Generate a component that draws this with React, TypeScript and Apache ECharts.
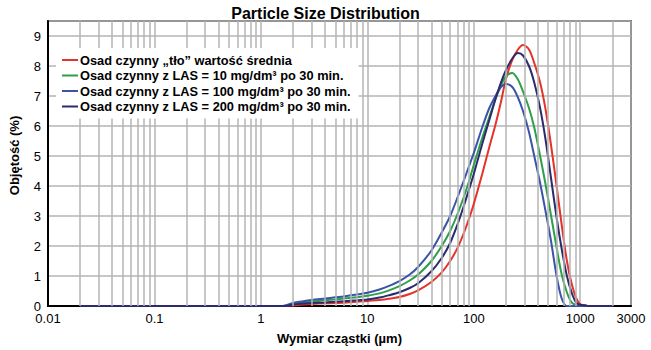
import React, { useEffect, useRef } from "react";
import * as echarts from "echarts";

const TITLE = "Particle Size Distribution";
const X_NAME = "Wymiar cząstki (µm)";
const Y_NAME = "Objętość (%)";

const seriesNames = [
  "Osad czynny „tło” wartość średnia",
  "Osad czynny z LAS = 10 mg/dm³ po 30 min.",
  "Osad czynny z LAS = 100 mg/dm³ po 30 min.",
  "Osad czynny z LAS = 200 mg/dm³ po 30 min.",
];
const seriesColors = ["#e5332a", "#2f9e4a", "#3a55a8", "#2b2b6e"];

// particle sizes (µm)
const sizes = [
  0.02, 1.5, 1.7, 2, 2.5, 3, 4, 5, 6, 8, 10, 13, 16, 20, 25, 30, 40, 50, 60, 70, 80, 90, 100,
  120, 140, 160, 180, 200, 230, 260, 290, 330, 370, 420, 470, 530, 600, 670, 750, 830, 920,
  1000, 1100, 1200, 2000,
];

const redValues = [
  0, 0, 0, 0.02, 0.05, 0.07, 0.09, 0.1, 0.11, 0.14, 0.17, 0.2, 0.24, 0.3, 0.4, 0.52, 0.8, 1.12,
  1.5, 1.92, 2.4, 2.9, 3.4, 4.4, 5.3, 6.05, 6.8, 7.55, 8.2, 8.55, 8.7, 8.55, 8.1, 7.45, 6.6, 5.4,
  4.0, 2.7, 1.5, 0.75, 0.25, 0.06, 0.03, 0, 0,
];
const greenValues = [
  0, 0, 0.01, 0.07, 0.12, 0.15, 0.19, 0.22, 0.25, 0.29, 0.34, 0.42, 0.52, 0.66, 0.85, 1.05, 1.5,
  2.0, 2.5, 3.05, 3.6, 4.15, 4.7, 5.6, 6.3, 6.9, 7.35, 7.65, 7.77, 7.55, 7.15, 6.6, 5.95, 5.0, 4.1,
  3.05, 1.95, 1.05, 0.45, 0.12, 0.03, 0.02, 0.01, 0, 0,
];
const blueValues = [
  0, 0, 0.02, 0.1, 0.16, 0.2, 0.25, 0.29, 0.32, 0.38, 0.44, 0.55, 0.67, 0.83, 1.05, 1.3, 1.85, 2.45,
  3.0, 3.6, 4.15, 4.65, 5.1, 5.95, 6.6, 7.0, 7.3, 7.4, 7.3, 6.95, 6.5, 5.8, 5.0, 4.1, 3.2, 2.2, 1.0,
  0.25, 0, 0, 0, 0, 0, 0, 0,
];
const navyValues = [
  0, 0, 0, 0.05, 0.08, 0.1, 0.12, 0.14, 0.16, 0.19, 0.22, 0.28, 0.36, 0.46, 0.6, 0.76, 1.16, 1.6,
  2.1, 2.7, 3.3, 3.87, 4.4, 5.4, 6.2, 6.9, 7.45, 7.85, 8.25, 8.43, 8.35, 8.0, 7.45, 6.6, 5.6, 4.3,
  2.95, 1.9, 1.0, 0.45, 0.1, 0.04, 0.02, 0, 0,
];
const allValues = [redValues, greenValues, blueValues, navyValues];

// minor vertical grid lines of the log axis
const minorGridSizes = [
  0.02, 0.03, 0.04, 0.05, 0.06, 0.07, 0.08, 0.09, 0.2, 0.3, 0.4, 0.5, 0.6, 0.7, 0.8, 0.9, 2, 3, 4,
  5, 6, 7, 8, 9, 20, 30, 40, 50, 60, 70, 80, 90, 200, 300, 400, 500, 600, 700, 800, 900, 2000,
];

const FONT = "'Liberation Sans', Arial, Helvetica, sans-serif";
const GRID_COLOR = "#b4b4b4";

export default function App() {
  const ref = useRef<HTMLDivElement>(null);
  useEffect(() => {
    document.body.style.margin = "0";
    if (!ref.current) return;
    const chart = echarts.init(ref.current, null, { renderer: "svg" });
    const curveSeries = seriesNames.map((name, i) => ({
      name,
      type: "line",
      data: sizes.map((s, j) => [s, allValues[i][j]]),
      showSymbol: false,
      smooth: 0.3,
      z: 3,
      lineStyle: { color: seriesColors[i], width: 2 },
      itemStyle: { color: seriesColors[i] },
    }));
    chart.setOption({
      animation: false,
      backgroundColor: "#ffffff",
      textStyle: { fontFamily: FONT },
      title: {
        text: TITLE,
        left: "center",
        top: 0,
        textStyle: { fontFamily: FONT, fontSize: 16, fontWeight: "bold", color: "#000" },
      },
      legend: {
        data: seriesNames,
        orient: "vertical",
        left: 56,
        top: 48,
        padding: [5, 8, 5, 6],
        itemGap: 1.5,
        itemWidth: 16,
        itemHeight: 2,
        icon: "rect",
        backgroundColor: "#ffffff",
        z: 10,
        textStyle: {
          fontFamily: FONT,
          fontSize: 12.8,
          fontWeight: "bold",
          color: "#000",
          lineHeight: 14,
          padding: [0, 0, 0, -3],
        },
      },
      grid: {
        left: 40,
        right: 20,
        top: 21,
        bottom: 40,
        show: true,
        borderColor: "#000",
        borderWidth: 1.5,
      },
      xAxis: {
        type: "log",
        logBase: 10,
        min: 0.01,
        max: 3000,
        name: X_NAME,
        nameLocation: "middle",
        nameGap: 26,
        nameTextStyle: { fontFamily: FONT, fontSize: 13, fontWeight: "bold", color: "#000" },
        axisLine: { show: true, lineStyle: { color: "#000", width: 2 } },
        axisTick: { show: false },
        axisLabel: {
          fontFamily: FONT,
          fontSize: 13,
          color: "#000",
          margin: 6,
          formatter: (v: number) => String(parseFloat(Number(v).toPrecision(6))),
        },
        splitLine: { show: true, lineStyle: { color: GRID_COLOR, width: 1.5 } },
      },
      yAxis: {
        type: "value",
        min: 0,
        max: 9.5,
        interval: 1,
        name: Y_NAME,
        nameLocation: "middle",
        nameGap: 27,
        nameTextStyle: {
          fontFamily: FONT,
          fontSize: 13,
          fontWeight: "bold",
          color: "#000",
          padding: [0, 0, 0, 16],
        },
        axisLine: { show: true, lineStyle: { color: "#000", width: 2 } },
        axisTick: { show: false },
        axisLabel: {
          fontFamily: FONT,
          fontSize: 13,
          color: "#000",
          margin: 7,
          formatter: (v: number) => (Number.isInteger(v) ? String(v) : ""),
        },
        splitLine: { show: true, lineStyle: { color: GRID_COLOR, width: 1.5 } },
      },
      series: [
        {
          name: "grid",
          type: "line",
          data: [[0.02, 0]],
          showSymbol: false,
          silent: true,
          z: 1,
          lineStyle: { opacity: 0 },
          markLine: {
            silent: true,
            symbol: ["none", "none"],
            label: { show: false },
            lineStyle: { color: GRID_COLOR, width: 1.5, type: "solid" },
            data: minorGridSizes.map((s) => ({ xAxis: s })),
          },
        },
        ...curveSeries,
      ],
    });
    return () => chart.dispose();
  }, []);
  return <div ref={ref} style={{ width: 651, height: 350 }} />;
}
